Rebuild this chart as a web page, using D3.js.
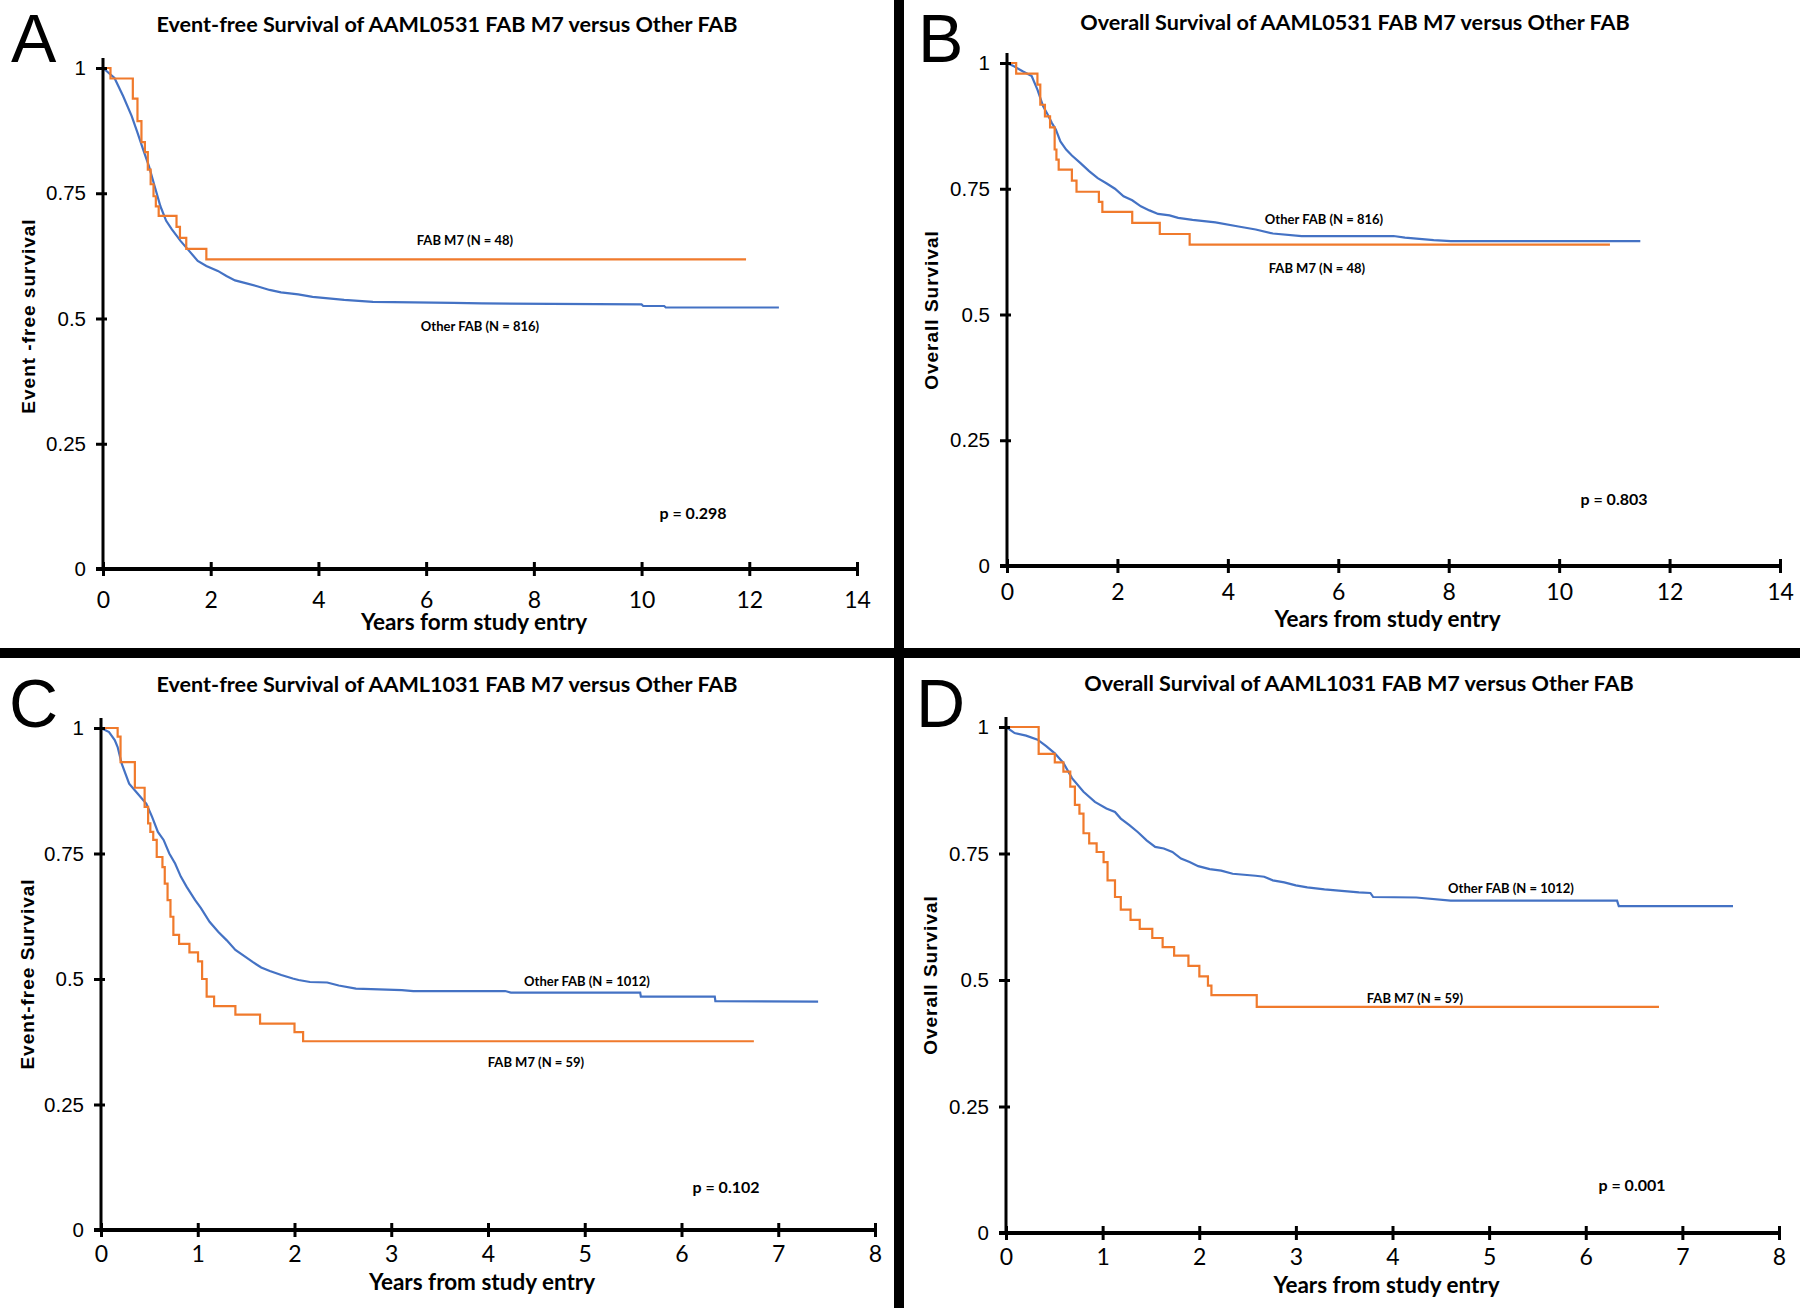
<!DOCTYPE html>
<html>
<head>
<meta charset="utf-8">
<script src="https://cdn.jsdelivr.net/npm/d3@7"></script>
<style>
  body { margin: 0; background: #fff; }
  .calib { font-family: Lato, "Open Sans", sans-serif; font-weight: bold; }
  .arial { font-family: "Liberation Sans", Arial, sans-serif; }
</style>
</head>
<body>
<svg id="fig" width="1800" height="1308"></svg>
<script>
// ---- shared axis values ----
const yTickVals = [0, 0.25, 0.5, 0.75, 1];
const yTickLabels = ["0", "0.25", "0.5", "0.75", "1"];
const xTicks0531 = [0, 2, 4, 6, 8, 10, 12, 14];
const xTicks1031 = [0, 1, 2, 3, 4, 5, 6, 7, 8];

// ---- A: AAML0531 event-free survival ----
const efs0531M7Years = [0, 0.139, 0.554, 0.64, 0.714, 0.778, 0.832, 0.885, 0.938, 0.981, 1.034, 1.365, 1.429, 1.546, 1.919, 11.94];
const efs0531M7Surv = [1, 0.979, 0.939, 0.894, 0.852, 0.832, 0.797, 0.768, 0.744, 0.724, 0.705, 0.683, 0.661, 0.639, 0.618, 0.618];
const efs0531OtherYears = [0, 0.213, 0.373, 0.533, 0.64, 0.746, 0.853, 0.959, 1.066, 1.173, 1.279, 1.439, 1.599, 1.759, 1.919, 2.132, 2.292, 2.452, 2.665, 2.878, 3.092, 3.305, 3.625, 3.891, 4.478, 5.011, 6.503, 7.036, 8.316, 10.0, 10.03, 10.42, 10.45, 12.55];
const efs0531OtherSurv = [1, 0.980, 0.944, 0.904, 0.871, 0.837, 0.804, 0.764, 0.724, 0.695, 0.678, 0.655, 0.635, 0.615, 0.605, 0.595, 0.585, 0.576, 0.570, 0.564, 0.557, 0.552, 0.548, 0.543, 0.537, 0.533, 0.531, 0.530, 0.529, 0.528, 0.525, 0.525, 0.522, 0.522];

// ---- B: AAML0531 overall survival ----
const os0531M7Years = [0, 0.166, 0.551, 0.603, 0.687, 0.78, 0.863, 0.895, 0.936, 1.175, 1.259, 1.664, 1.727, 2.268, 2.767, 3.308, 10.92];
const os0531M7Surv = [1, 0.979, 0.957, 0.917, 0.894, 0.872, 0.828, 0.808, 0.788, 0.766, 0.744, 0.724, 0.704, 0.682, 0.660, 0.639, 0.639];
const os0531OtherYears = [0, 0.135, 0.291, 0.447, 0.551, 0.655, 0.739, 0.811, 0.884, 0.967, 1.071, 1.175, 1.331, 1.487, 1.643, 1.799, 1.955, 2.111, 2.268, 2.424, 2.58, 2.736, 2.944, 3.1, 3.36, 3.776, 4.192, 4.504, 4.816, 5.336, 7.0, 7.208, 7.728, 8.04, 11.47];
const os0531OtherSurv = [1, 0.993, 0.983, 0.974, 0.947, 0.914, 0.897, 0.881, 0.868, 0.844, 0.828, 0.816, 0.801, 0.785, 0.771, 0.761, 0.750, 0.735, 0.727, 0.715, 0.707, 0.700, 0.697, 0.692, 0.688, 0.683, 0.675, 0.669, 0.661, 0.656, 0.656, 0.653, 0.648, 0.646, 0.646];

// ---- C: AAML1031 event-free survival ----
const efs1031M7Years = [0, 0.172, 0.202, 0.35, 0.451, 0.487, 0.51, 0.54, 0.576, 0.635, 0.659, 0.688, 0.718, 0.748, 0.807, 0.914, 1.003, 1.045, 1.092, 1.169, 1.389, 1.644, 2.0, 2.089, 6.748];
const efs1031M7Surv = [1, 0.983, 0.932, 0.881, 0.843, 0.810, 0.793, 0.777, 0.743, 0.723, 0.690, 0.657, 0.624, 0.588, 0.570, 0.553, 0.535, 0.500, 0.465, 0.446, 0.429, 0.411, 0.394, 0.376, 0.376];
const efs1031OtherYears = [0, 0.083, 0.142, 0.172, 0.214, 0.291, 0.38, 0.469, 0.528, 0.588, 0.647, 0.706, 0.766, 0.825, 0.884, 0.973, 1.033, 1.122, 1.211, 1.3, 1.389, 1.478, 1.567, 1.656, 1.745, 1.864, 1.982, 2.042, 2.16, 2.338, 2.457, 2.635, 3.11, 3.228, 4.178, 4.237, 5.573, 5.58, 6.344, 6.35, 7.412];
const efs1031OtherSurv = [1, 0.992, 0.976, 0.962, 0.929, 0.889, 0.869, 0.849, 0.823, 0.793, 0.777, 0.750, 0.730, 0.704, 0.684, 0.657, 0.641, 0.614, 0.594, 0.577, 0.558, 0.546, 0.534, 0.523, 0.516, 0.508, 0.501, 0.498, 0.494, 0.493, 0.487, 0.481, 0.478, 0.476, 0.476, 0.473, 0.473, 0.465, 0.465, 0.456, 0.455];

// ---- D: AAML1031 overall survival ----
const os1031M7Years = [0, 0.338, 0.505, 0.594, 0.665, 0.713, 0.76, 0.802, 0.861, 0.938, 1.01, 1.051, 1.128, 1.188, 1.289, 1.384, 1.514, 1.621, 1.74, 1.888, 2.001, 2.09, 2.126, 2.595, 6.758];
const os1031M7Surv = [1, 0.947, 0.930, 0.912, 0.882, 0.846, 0.829, 0.790, 0.770, 0.753, 0.733, 0.697, 0.664, 0.639, 0.619, 0.601, 0.583, 0.565, 0.548, 0.528, 0.507, 0.489, 0.470, 0.447, 0.447];
const os1031OtherYears = [0, 0.089, 0.208, 0.327, 0.416, 0.505, 0.594, 0.683, 0.802, 0.92, 1.039, 1.128, 1.188, 1.277, 1.366, 1.455, 1.544, 1.633, 1.722, 1.811, 1.9, 1.989, 2.108, 2.227, 2.346, 2.464, 2.583, 2.672, 2.761, 2.88, 2.999, 3.118, 3.296, 3.474, 3.652, 3.771, 3.8, 4.246, 4.602, 6.324, 6.342, 7.524];
const os1031OtherSurv = [1, 0.988, 0.983, 0.975, 0.962, 0.948, 0.929, 0.899, 0.872, 0.852, 0.839, 0.832, 0.819, 0.806, 0.792, 0.776, 0.763, 0.760, 0.753, 0.740, 0.733, 0.725, 0.719, 0.716, 0.710, 0.708, 0.706, 0.704, 0.697, 0.693, 0.687, 0.683, 0.679, 0.676, 0.673, 0.672, 0.664, 0.663, 0.657, 0.657, 0.646, 0.646];

const orange = "#f07a2c";
const blue = "#4472c4";

const svg = d3.select("#fig");
svg.append("rect").attr("width", 1800).attr("height", 1308).attr("fill", "#fff");

// layout of the four panels (pixel boxes of the plot areas and text anchors)
const panels = [
  { letter: "A", lx: 11, ly: 62, left: 103, right: 857, top: 68, bottom: 569, xMax: 14, xTicks: xTicks0531, xPad: 23,
    title: "Event-free Survival of AAML0531 FAB M7 versus Other FAB", titleX: 447, titleY: 32,
    yTitle: "Event -free survival", yTitleX: 28, yTitleY: 316,
    xTitle: "Years form study entry", xTitleY: 630,
    m7: [efs0531M7Years, efs0531M7Surv], other: [efs0531OtherYears, efs0531OtherSurv],
    m7Label: "FAB M7 (N = 48)", m7LabelPos: [465, 245], otherLabel: "Other FAB (N = 816)", otherLabelPos: [480, 331],
    pText: "p = 0.298", pPos: [693, 519] },
  { letter: "B", lx: 918, ly: 62, left: 1007, right: 1780, top: 63, bottom: 566, xMax: 14, xTicks: xTicks0531, xPad: 18,
    title: "Overall Survival of AAML0531 FAB M7 versus Other FAB", titleX: 1355, titleY: 30,
    yTitle: "Overall Survival", yTitleX: 931, yTitleY: 310,
    xTitle: "Years from study entry", xTitleY: 627,
    m7: [os0531M7Years, os0531M7Surv], other: [os0531OtherYears, os0531OtherSurv],
    m7Label: "FAB M7 (N = 48)", m7LabelPos: [1317, 273], otherLabel: "Other FAB (N = 816)", otherLabelPos: [1324, 224],
    pText: "p = 0.803", pPos: [1614, 505] },
  { letter: "C", lx: 9, ly: 727, left: 101, right: 875, top: 728, bottom: 1230, xMax: 8, xTicks: xTicks1031, xPad: 16,
    title: "Event-free Survival of AAML1031 FAB M7 versus Other FAB", titleX: 447, titleY: 692,
    yTitle: "Event-free Survival", yTitleX: 27, yTitleY: 974,
    xTitle: "Years from study entry", xTitleY: 1290,
    m7: [efs1031M7Years, efs1031M7Surv], other: [efs1031OtherYears, efs1031OtherSurv],
    m7Label: "FAB M7 (N = 59)", m7LabelPos: [536, 1067], otherLabel: "Other FAB (N = 1012)", otherLabelPos: [587, 986],
    pText: "p = 0.102", pPos: [726, 1193] },
  { letter: "D", lx: 916, ly: 727, left: 1006, right: 1779, top: 727, bottom: 1233, xMax: 8, xTicks: xTicks1031, xPad: 16,
    title: "Overall Survival of AAML1031 FAB M7 versus Other FAB", titleX: 1359, titleY: 691,
    yTitle: "Overall Survival", yTitleX: 930, yTitleY: 975,
    xTitle: "Years from study entry", xTitleY: 1293,
    m7: [os1031M7Years, os1031M7Surv], other: [os1031OtherYears, os1031OtherSurv],
    m7Label: "FAB M7 (N = 59)", m7LabelPos: [1415, 1003], otherLabel: "Other FAB (N = 1012)", otherLabelPos: [1511, 893],
    pText: "p = 0.001", pPos: [1632, 1191] }
];

function drawPanel(p) {
  const x = d3.scaleLinear().domain([0, p.xMax]).range([p.left, p.right]);
  const y = d3.scaleLinear().domain([0, 1]).range([p.bottom, p.top]);
  const g = svg.append("g");

  // survival curves: M7 as a step function, the large group as a dense line
  const stepLine = d3.line().x(d => x(d[0])).y(d => y(d[1])).curve(d3.curveStepAfter);
  const denseLine = d3.line().x(d => x(d[0])).y(d => y(d[1]));

  g.append("path")
    .datum(d3.zip(p.other[0], p.other[1]))
    .attr("d", denseLine)
    .attr("fill", "none")
    .attr("stroke", blue)
    .attr("stroke-width", 2.2);

  g.append("path")
    .datum(d3.zip(p.m7[0], p.m7[1]))
    .attr("d", stepLine)
    .attr("fill", "none")
    .attr("stroke", orange)
    .attr("stroke-width", 2.2);

  // y axis
  const yAxis = d3.axisLeft(y)
    .tickValues(yTickVals)
    .tickFormat((d, i) => yTickLabels[i])
    .tickSize(6)
    .tickPadding(11);
  const ya = g.append("g").attr("transform", `translate(${p.left},0)`).call(yAxis);
  ya.select(".domain").remove();
  ya.selectAll(".tick line").attr("x1", 4).attr("x2", -7).attr("stroke", "#000").attr("stroke-width", 3);
  ya.selectAll(".tick text")
    .attr("class", "arial")
    .style("font-size", "20.5px")
    .attr("fill", "#000");
  g.append("line")
    .attr("x1", x(0)).attr("x2", x(0))
    .attr("y1", y(0)).attr("y2", y(1) - 10)
    .attr("stroke", "#000").attr("stroke-width", 3);

  // x axis
  const xAxis = d3.axisBottom(x)
    .tickValues(p.xTicks)
    .tickFormat(d3.format("d"))
    .tickSize(0)
    .tickPadding(p.xPad);
  const xa = g.append("g").attr("transform", `translate(0,${p.bottom})`).call(xAxis);
  xa.select(".domain").remove();
  xa.selectAll(".tick line").attr("y1", -7).attr("y2", 7).attr("stroke", "#000").attr("stroke-width", 3);
  xa.selectAll(".tick text")
    .attr("class", "calib")
    .style("font-weight", "normal")
    .style("font-size", "23px")
    .attr("fill", "#000");
  g.append("line")
    .attr("x1", x(0) - 7).attr("x2", x(p.xMax))
    .attr("y1", y(0)).attr("y2", y(0))
    .attr("stroke", "#000").attr("stroke-width", 4);

  // titles and labels
  g.append("text").attr("class", "arial")
    .attr("x", p.lx).attr("y", p.ly)
    .style("font-size", "68px")
    .text(p.letter);

  g.append("text").attr("class", "calib")
    .attr("x", p.titleX).attr("y", p.titleY)
    .attr("text-anchor", "middle")
    .style("font-size", "21.6px")
    .text(p.title);

  g.append("text").attr("class", "calib")
    .attr("x", (p.left + p.right) / 2 - 6).attr("y", p.xTitleY)
    .attr("text-anchor", "middle")
    .style("font-size", "22.5px")
    .text(p.xTitle);

  g.append("text").attr("class", "arial")
    .attr("transform", `translate(${p.yTitleX + 7},${p.yTitleY}) rotate(-90)`)
    .attr("text-anchor", "middle")
    .style("font-size", "19px")
    .style("font-weight", "bold")
    .style("letter-spacing", "1px")
    .text(p.yTitle);

  g.append("text").attr("class", "calib")
    .attr("x", p.m7LabelPos[0]).attr("y", p.m7LabelPos[1])
    .attr("text-anchor", "middle")
    .style("font-size", "13px")
    .text(p.m7Label);

  g.append("text").attr("class", "calib")
    .attr("x", p.otherLabelPos[0]).attr("y", p.otherLabelPos[1])
    .attr("text-anchor", "middle")
    .style("font-size", "13px")
    .text(p.otherLabel);

  g.append("text").attr("class", "calib")
    .attr("x", p.pPos[0]).attr("y", p.pPos[1])
    .attr("text-anchor", "middle")
    .style("font-size", "16px")
    .text(p.pText);
}

panels.forEach(drawPanel);

// black dividers between the four panels
svg.append("rect").attr("x", 894).attr("y", 0).attr("width", 10).attr("height", 1308).attr("fill", "#000");
svg.append("rect").attr("x", 0).attr("y", 648).attr("width", 1800).attr("height", 10).attr("fill", "#000");
</script>
</body>
</html>
